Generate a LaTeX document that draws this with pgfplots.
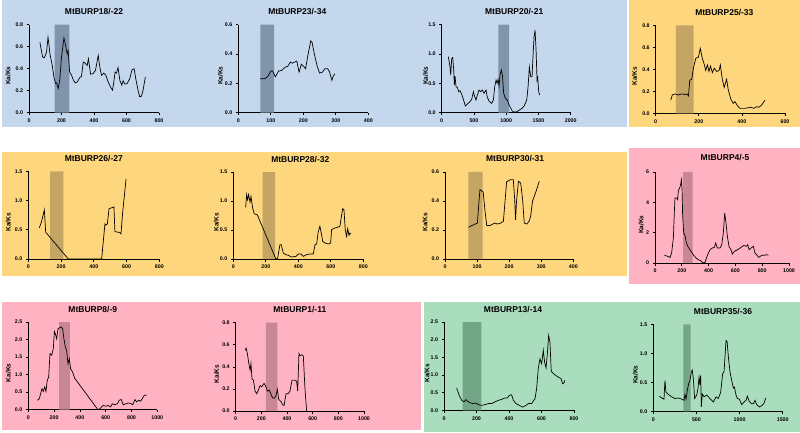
\documentclass[border=0pt]{standalone}
\usepackage{pgfplots}
\pgfplotsset{compat=1.18}
\usepackage{fontspec}
\setmainfont{Liberation Sans}
\definecolor{bgblue}{RGB}{197,215,237}
\definecolor{bgyellow}{RGB}{254,214,125}
\definecolor{bgpink}{RGB}{255,178,194}
\definecolor{bggreen}{RGB}{170,221,189}
\definecolor{boxblue}{RGB}{128,148,172}
\definecolor{boxyellow}{RGB}{196,165,100}
\definecolor{boxpink}{RGB}{200,135,150}
\definecolor{boxgreen}{RGB}{115,165,135}
\pgfplotsset{
  burp/.style={
    scale only axis, width=130pt, height=88pt,
    axis x line*=bottom, axis y line*=left, axis line style={-, line width=0.8pt, black},
    tick align=outside, major tick length=2.5pt, tick style={line width=0.7pt, black},
    ticklabel style={font=\fontsize{5.3}{6}\selectfont\bfseries},
    /pgf/number format/assume math mode=true,
    /pgf/number format/1000 sep={},
    enlargelimits=false,
    ylabel={Ka/Ks},
    ylabel style={font=\fontsize{6.5}{7}\selectfont\bfseries, at={(axis description cs:0,0.42)}, anchor=center},
    title style={font=\fontsize{8.5}{9}\selectfont\bfseries, at={(axis description cs:0.5,1)}, anchor=base, yshift=4pt},
    anchor=south west,
  },
  dec/.style={yticklabel style={/pgf/number format/fixed, /pgf/number format/fixed zerofill, /pgf/number format/precision=1}},
  kk/.style={black, line width=0.7pt, no marks},
}
\begin{document}
\begin{tikzpicture}
\fill[white] (0pt,0pt) rectangle (800pt,432pt);
\fill[bgblue] (2pt,305pt) rectangle (627pt,432pt);
\fill[bgyellow] (629pt,305pt) rectangle (800pt,432pt);
\fill[bgyellow] (2pt,156pt) rectangle (627pt,280pt);
\fill[bgpink] (629pt,148pt) rectangle (800pt,284pt);
\fill[bgpink] (2pt,2pt) rectangle (421pt,130pt);
\fill[bggreen] (424pt,0pt) rectangle (800pt,130pt);
\useasboundingbox (0pt,0pt) rectangle (800pt,432pt);

% P1
\begin{axis}[burp, dec, at={(29pt,319.3pt)}, title={MtBURP18/-22},
  ylabel style={yshift=21pt},
  xmin=0, xmax=800, xtick={0,200,...,800}, ymin=0, ymax=0.8, ytick={0,0.2,0.4,0.6,0.8}]
\addplot[fill=boxblue, draw=none] coordinates {(158,0)(158,0.8)(248,0.8)(248,0)} \closedcycle;
\addplot[kk] coordinates {(67,0.64)(84,0.505)(94,0.50)(108,0.55)(117,0.686)(121,0.64)(129,0.535)(143,0.43)(155,0.31)(164,0.265)(170,0.27)(180,0.22)(190,0.31)(200,0.505)(215,0.68)(221,0.64)(231,0.565)(235,0.535)(241,0.565)(250,0.37)(262,0.34)(272,0.30)(284,0.27)(297,0.28)(313,0.32)(323,0.33)(334,0.46)(346,0.45)(358,0.43)(366,0.49)(370,0.445)(379,0.35)(395,0.355)(409,0.385)(426,0.52)(436,0.415)(446,0.34)(460,0.36)(473,0.34)(487,0.28)(503,0.23)(514,0.205)(522,0.28)(530,0.37)(538,0.36)(548,0.41)(559,0.295)(571,0.25)(579,0.29)(591,0.26)(604,0.265)(620,0.31)(634,0.39)(647,0.40)(657,0.31)(671,0.205)(681,0.145)(692,0.15)(702,0.205)(716,0.325)};
\end{axis}

% P2
\begin{axis}[burp, dec, at={(238.3pt,319.3pt)}, title={MtBURP23/-34}, title style={xshift=-6pt},
  ylabel style={yshift=18pt},
  xmin=0, xmax=400, xtick={0,100,...,400}, ymin=0, ymax=0.6, ytick={0,0.2,0.4,0.6}]
\addplot[fill=boxblue, draw=none] coordinates {(68,0)(68,0.6)(110,0.6)(110,0)} \closedcycle;
\addplot[kk] coordinates {(67,0.232)(82,0.232)(91,0.248)(100,0.284)(106,0.284)(114,0.244)(124,0.284)(134,0.289)(144,0.31)(152,0.316)(160,0.345)(166,0.338)(173,0.345)(180,0.352)(187,0.277)(194,0.33)(201,0.316)(207,0.30)(214,0.39)(223,0.49)(227,0.48)(234,0.40)(242,0.323)(250,0.27)(259,0.277)(266,0.30)(275,0.30)(281,0.277)(288,0.22)(291,0.244)(297,0.266)};
\end{axis}

% P3
\begin{axis}[burp, dec, at={(441.7pt,319.3pt)}, width=129pt, title={MtBURP20/-21}, title style={xshift=8pt},
  ylabel style={yshift=16pt},
  xmin=0, xmax=2000, xtick={0,500,...,2000}, ymin=0, ymax=1.5, ytick={0,0.5,1,1.5}]
\addplot[fill=boxblue, draw=none] coordinates {(880,0)(880,1.5)(1045,1.5)(1045,0)} \closedcycle;
\addplot[kk] coordinates {(103,0.955)(129,0.78)(140,0.64)(155,0.926)(171,0.94)(186,0.73)(196,0.47)(207,0.625)(222,0.443)(243,0.43)(264,0.358)(284,0.375)(315,0.30)(346,0.19)(367,0.114)(398,0.148)(439,0.19)(465,0.227)(491,0.358)(512,0.273)(532,0.216)(553,0.30)(579,0.386)(605,0.358)(631,0.386)(656,0.33)(687,0.386)(708,0.26)(739,0.19)(775,0.16)(801,0.216)(822,0.443)(843,0.557)(858,0.50)(874,0.568)(889,0.455)(904,0.64)(925,0.727)(941,0.64)(961,0.33)(987,0.244)(1018,0.216)(1039,0.148)(1059,0.102)(1090,0.034)(1121,0.011)(1163,0.017)(1204,0.045)(1245,0.074)(1277,0.114)(1297,0.16)(1318,0.216)(1339,0.443)(1359,0.78)(1380,0.614)(1401,0.614)(1411,0.87)(1432,1.295)(1447,1.41)(1463,1.07)(1478,0.557)(1488,0.60)(1504,0.358)(1520,0.30)};
\end{axis}

% P4
\begin{axis}[burp, dec, at={(655.7pt,318.7pt)}, width=129.3pt, title={MtBURP25/-33}, title style={xshift=4pt},
  ylabel style={yshift=21pt},
  xmin=0, xmax=600, xtick={0,200,400,600}, ymin=0, ymax=0.8, ytick={0,0.2,0.4,0.6,0.8}]
\addplot[fill=boxyellow, draw=none] coordinates {(93,0)(93,0.8)(176,0.8)(176,0)} \closedcycle;
\addplot[kk] coordinates {(70,0.12)(77,0.167)(90,0.176)(105,0.167)(121,0.176)(136,0.17)(145,0.176)(152,0.158)(158,0.30)(167,0.31)(175,0.41)(186,0.50)(198,0.51)(207,0.59)(216,0.50)(226,0.44)(232,0.39)(240,0.44)(247,0.38)(254,0.43)(263,0.37)(272,0.41)(283,0.38)(294,0.39)(300,0.44)(309,0.31)(318,0.236)(329,0.31)(337,0.21)(349,0.127)(360,0.09)(368,0.106)(380,0.067)(391,0.045)(414,0.045)(442,0.055)(455,0.045)(468,0.06)(479,0.055)(492,0.076)(507,0.12)};
\end{axis}

% P5
\begin{axis}[burp, dec, at={(28.3pt,173pt)}, width=131pt, height=87.7pt, title={MtBURP26/-27},
  ylabel style={yshift=20pt},
  xmin=0, xmax=800, xtick={0,200,...,800}, ymin=0, ymax=1.5, ytick={0,0.5,1,1.5}]
\addplot[fill=boxyellow, draw=none] coordinates {(133,0)(133,1.5)(214,1.5)(214,0)} \closedcycle;
\addplot[kk] coordinates {(67,0.53)(81,0.64)(98,0.84)(106,0.46)(244,0.0)(448,0.0)(468,0.60)(474,0.58)(483,0.60)(493,0.86)(503,0.87)(513,0.88)(523,0.89)(529,0.47)(544,0.46)(556,0.456)(566,0.43)(576,0.79)(584,1.01)(597,1.37)};
\end{axis}

% P6
\begin{axis}[burp, dec, at={(233.3pt,173pt)}, height=87pt, title={MtBURP28/-32}, title style={xshift=2pt},
  ylabel style={yshift=17pt},
  xmin=0, xmax=800, xtick={0,200,...,800}, ymin=0, ymax=1.5, ytick={0,0.5,1,1.5}]
\addplot[fill=boxyellow, draw=none] coordinates {(180,0)(180,1.5)(258,1.5)(258,0)} \closedcycle;
\addplot[kk] coordinates {(76,0.89)(82,1.11)(88,1.02)(94,1.11)(103,0.98)(109,1.08)(119,0.88)(129,0.78)(148,0.76)(160,0.68)(262,0.0)(273,0.017)(287,0.247)(295,0.247)(308,0.10)(324,0.075)(338,0.063)(359,0.034)(386,0.046)(400,0.086)(416,0.086)(431,0.046)(451,0.075)(472,0.086)(492,0.086)(503,0.247)(513,0.259)(523,0.477)(533,0.563)(544,0.41)(550,0.305)(564,0.276)(585,0.259)(599,0.276)(605,0.506)(625,0.534)(646,0.552)(656,0.563)(667,0.764)(673,0.868)(681,0.85)(689,0.506)(697,0.39)(704,0.523)(712,0.408)(718,0.448)(724,0.43)};
\end{axis}

% P7
\begin{axis}[burp, dec, at={(445pt,173pt)}, width=128.3pt, height=87pt, title={MtBURP30/-31}, title style={xshift=6pt},
  ylabel style={yshift=20pt},
  xmin=0, xmax=400, xtick={0,100,...,400}, ymin=0, ymax=0.6, ytick={0,0.2,0.4,0.6}]
\addplot[fill=boxyellow, draw=none] coordinates {(73,0)(73,0.6)(117,0.6)(117,0)} \closedcycle;
\addplot[kk] coordinates {(73,0.218)(83,0.23)(94,0.241)(101,0.248)(105,0.37)(109,0.478)(114,0.471)(119,0.462)(125,0.324)(130,0.232)(140,0.23)(149,0.241)(156,0.248)(163,0.241)(174,0.248)(182,0.26)(188,0.42)(192,0.531)(203,0.547)(213,0.547)(217,0.42)(220,0.27)(223,0.398)(229,0.536)(236,0.524)(242,0.409)(247,0.248)(255,0.241)(262,0.26)(267,0.294)(273,0.40)(284,0.467)(294,0.536)};
\end{axis}

% P8
\begin{axis}[burp, at={(655pt,169pt)}, width=134pt, height=91pt, title={MtBURP4/-5}, title style={xshift=3pt, yshift=1pt},
  ylabel style={yshift=14pt},
  xmin=0, xmax=1000, xtick={0,200,...,1000}, ymin=0, ymax=6, ytick={0,2,4,6}]
\addplot[fill=boxpink, draw=none] coordinates {(209,0)(209,6)(281,6)(281,0)} \closedcycle;
\addplot[kk] coordinates {(70,0.51)(95,0.44)(112,0.37)(124,0.66)(137,1.65)(144,3.3)(149,4.29)(162,4.29)(169,4.18)(174,4.77)(184,4.95)(192,5.17)(197,5.49)(202,4.84)(206,3.19)(214,1.98)(224,1.82)(234,1.32)(249,1.03)(269,0.77)(289,0.51)(306,0.33)(323,0.22)(343,0.15)(356,0.0)(373,0.04)(393,0.55)(411,0.88)(428,0.99)(443,1.03)(453,1.32)(465,0.99)(485,0.99)(498,1.21)(510,1.98)(520,3.3)(530,2.64)(540,1.76)(552,1.1)(567,0.88)(577,0.59)(592,0.77)(617,0.88)(642,1.03)(662,1.16)(682,1.1)(692,1.21)(702,0.88)(717,0.99)(734,1.1)(746,0.66)(761,0.51)(776,0.37)(796,0.51)(816,0.51)(833,0.55)(846,0.51)};
\end{axis}

% P9
\begin{axis}[burp, dec, at={(28.3pt,22.3pt)}, width=129pt, height=87.7pt, title={MtBURP8/-9},
  ylabel style={yshift=20pt},
  xmin=0, xmax=1000, xtick={0,200,...,1000}, ymin=0, ymax=2.5, ytick={0,0.5,1,1.5,2,2.5}]
\addplot[fill=boxpink, draw=none] coordinates {(238,0)(238,2.5)(323,2.5)(323,0)} \closedcycle;
\addplot[kk] coordinates {(70,0.27)(85,0.31)(96,0.46)(106,0.60)(116,0.52)(127,0.65)(137,0.52)(147,0.84)(158,0.93)(168,1.60)(181,1.55)(194,1.74)(202,2.23)(209,2.17)(220,2.02)(230,2.31)(240,2.33)(256,2.36)(266,2.31)(276,2.02)(287,1.79)(297,1.69)(308,1.31)(318,1.45)(328,1.17)(344,1.07)(359,0.90)(540,0.0)(556,0.03)(568,0.08)(581,0.12)(602,0.10)(620,0.12)(638,0.08)(651,0.17)(672,0.14)(690,0.17)(705,0.27)(721,0.29)(736,0.14)(757,0.17)(775,0.19)(793,0.18)(809,0.14)(827,0.29)(840,0.22)(855,0.27)(871,0.24)(886,0.33)(899,0.41)(917,0.41)};
\end{axis}

% P10
\begin{axis}[burp, dec, at={(235.7pt,21pt)}, width=128.3pt, height=88.3pt, title={MtBURP1/-11},
  ylabel style={yshift=19pt},
  xmin=0, xmax=1000, xtick={0,200,...,1000}, ymin=0, ymax=0.8, ytick={0,0.2,0.4,0.6,0.8}]
\addplot[fill=boxpink, draw=none] coordinates {(236,0)(236,0.8)(325,0.8)(325,0)} \closedcycle;
\addplot[kk] coordinates {(73,0.55)(81,0.57)(91,0.52)(101,0.44)(112,0.37)(119,0.43)(127,0.29)(138,0.28)(151,0.18)(164,0.157)(177,0.19)(190,0.23)(203,0.22)(221,0.25)(236,0.22)(247,0.18)(262,0.19)(273,0.157)(288,0.118)(304,0.118)(314,0.14)(325,0.196)(335,0.106)(351,0.088)(366,0.057)(377,0.05)(392,0.157)(408,0.157)(423,0.18)(439,0.28)(457,0.28)(475,0.27)(483,0.18)(493,0.52)(501,0.50)(514,0.51)(527,0.50)(540,0.2)(553,0.0)};
\end{axis}

% P11
\begin{axis}[burp, dec, at={(444pt,21.7pt)}, height=88.3pt, title={MtBURP13/-14}, title style={xshift=4pt},
  ylabel style={yshift=17pt},
  xmin=0, xmax=800, xtick={0,200,...,800}, ymin=0, ymax=2.5, ytick={0,0.5,1,1.5,2,2.5}]
\addplot[fill=boxgreen, draw=none] coordinates {(115,0)(115,2.5)(230,2.5)(230,0)} \closedcycle;
\addplot[kk] coordinates {(78,0.63)(94,0.42)(109,0.28)(123,0.24)(135,0.30)(150,0.24)(164,0.21)(180,0.19)(197,0.21)(211,0.16)(232,0.14)(252,0.16)(273,0.19)(293,0.19)(314,0.24)(334,0.28)(355,0.31)(375,0.35)(390,0.35)(402,0.42)(416,0.44)(427,0.28)(443,0.19)(464,0.14)(484,0.09)(505,0.14)(519,0.19)(539,0.19)(560,0.33)(570,0.61)(580,1.18)(591,1.46)(601,1.32)(611,1.70)(619,1.37)(628,1.20)(636,1.60)(644,2.12)(652,1.93)(660,1.10)(673,1.04)(693,0.97)(710,0.92)(720,0.90)(730,0.75)(738,0.78)(744,0.85)};
\end{axis}

% P12
\begin{axis}[burp, dec, at={(653.3pt,20.7pt)}, width=129.4pt, height=87pt, title={MtBURP35/-36}, title style={xshift=5pt},
  ylabel style={yshift=18pt},
  xmin=0, xmax=1500, xtick={0,500,1000,1500}, ymin=0, ymax=1.5, ytick={0,0.5,1,1.5}]
\addplot[fill=boxgreen, draw=none] coordinates {(348,0)(348,1.5)(433,1.5)(433,0)} \closedcycle;
\addplot[kk] coordinates {(70,0.26)(97,0.23)(124,0.21)(135,0.53)(147,0.33)(174,0.29)(213,0.25)(251,0.22)(290,0.23)(329,0.21)(356,0.19)(367,0.29)(379,0.21)(394,0.36)(410,0.48)(425,0.53)(441,0.68)(452,0.71)(464,0.56)(479,0.22)(503,0.28)(518,0.39)(530,0.59)(541,0.45)(549,0.62)(557,0.075)(568,0.30)(588,0.25)(619,0.28)(657,0.22)(696,0.16)(727,0.25)(754,0.22)(781,0.33)(804,0.65)(820,0.68)(831,0.94)(843,1.22)(855,1.21)(870,0.94)(889,0.68)(909,0.53)(928,0.40)(940,0.42)(959,0.28)(974,0.22)(997,0.21)(1025,0.115)(1052,0.16)(1075,0.19)(1090,0.26)(1113,0.17)(1140,0.13)(1160,0.13)(1179,0.19)(1198,0.115)(1229,0.075)(1260,0.10)(1284,0.14)(1303,0.23)};
\end{axis}
\end{tikzpicture}
\end{document}
